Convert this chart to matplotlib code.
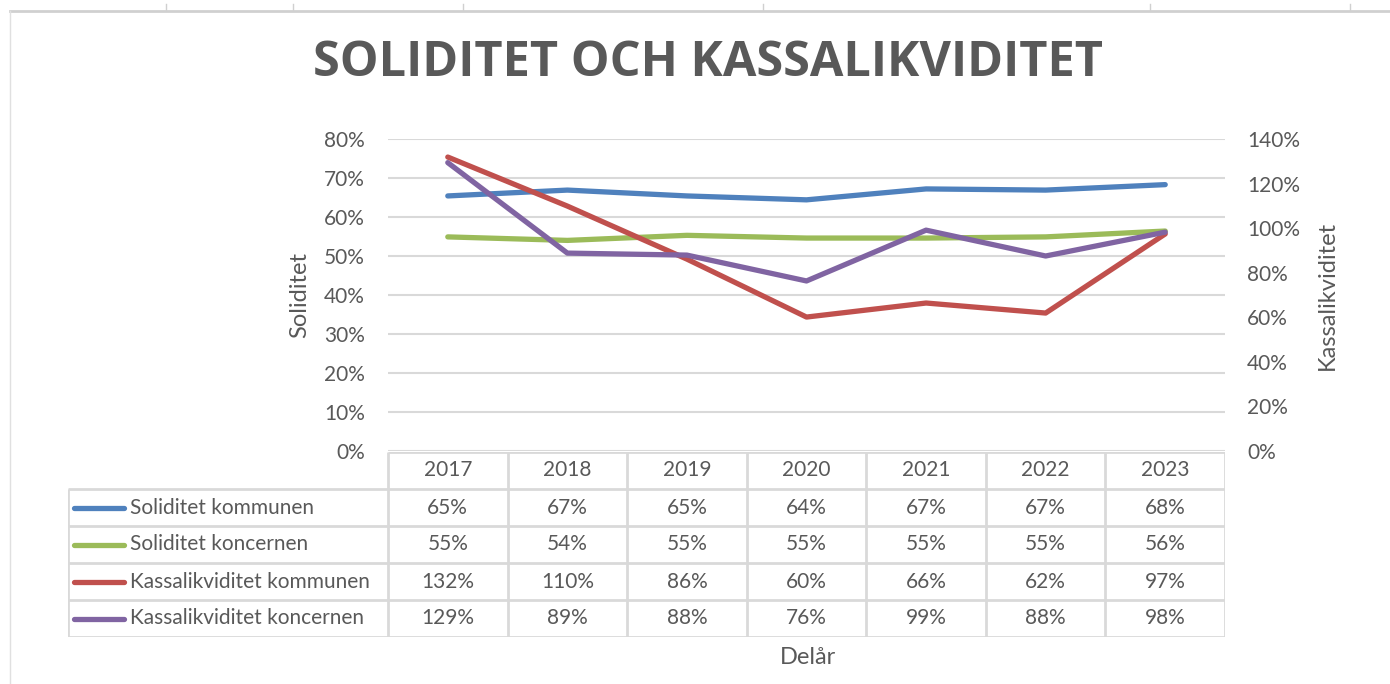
import matplotlib.pyplot as plt
from matplotlib.lines import Line2D
import numpy as np

years = ["2017", "2018", "2019", "2020", "2021", "2022", "2023"]
names = ["Soliditet kommunen", "Soliditet koncernen",
         "Kassalikviditet kommunen", "Kassalikviditet koncernen"]
sol_kommun = [65.4, 66.9, 65.4, 64.4, 67.2, 66.9, 68.3]
sol_koncern = [54.9, 54.0, 55.3, 54.6, 54.6, 54.9, 56.4]
kassa_kommun = [131.9, 109.9, 86.1, 60.1, 66.4, 61.9, 97.4]
kassa_koncern = [129.4, 88.8, 87.9, 76.3, 99.1, 87.5, 98.2]
colors = ["#4F81BD", "#9BBB59", "#C0504D", "#8064A2"]

TXT = "#595959"
GRID = "#d9d9d9"
W, H = 1390, 684
FS = 15
plt.rcParams['font.family'] = ['Lato', 'DejaVu Sans']

fig = plt.figure(figsize=(W / 100, H / 100), dpi=100)

def box(x0, y0, x1, y1):
    # pixel box -> figure fraction
    return [x0 / W, 1 - y1 / H, (x1 - x0) / W, (y1 - y0) / H]

# sheet frame decoration
fig.add_artist(Line2D([10 / W, 1], [1 - 11 / H] * 2, color="#d0d0d0", lw=2))
fig.add_artist(Line2D([10 / W] * 2, [0, 1 - 11 / H], color="#e0e0e0", lw=1))
for px in [166, 293, 463, 763, 1150, 1350]:
    fig.add_artist(Line2D([px / W] * 2, [1 - 10 / H, 1 - 4 / H], color="#d0d0d0", lw=1))

fig.text(708 / W, 1 - 64 / H, "SOLIDITET OCH KASSALIKVIDITET", ha="center", va="center",
         fontsize=35, fontweight="bold", color=TXT, family=["Open Sans", "DejaVu Sans"])

X0, X1, Y0, Y1 = 388, 1225, 139, 451
ax = fig.add_axes(box(X0, Y0, X1, Y1))
ax2 = ax.twinx()
x = np.arange(len(years))

ax.plot(x, sol_kommun, color=colors[0], lw=3.8, solid_capstyle="round")
ax.plot(x, sol_koncern, color=colors[1], lw=3.8, solid_capstyle="round")
ax2.plot(x, kassa_kommun, color=colors[2], lw=3.8, solid_capstyle="round")
ax2.plot(x, kassa_koncern, color=colors[3], lw=3.8, solid_capstyle="round")

ax.set_xlim(-0.5, len(years) - 0.5)
ax.set_ylim(0, 80)
ax2.set_ylim(0, 140)
ax.set_yticks(np.arange(0, 81, 10))
ax.set_yticklabels([f"{v}%" for v in range(0, 81, 10)])
ax2.set_yticks(np.arange(0, 141, 20))
ax2.set_yticklabels([f"{v}%" for v in range(0, 141, 20)])
ax.set_xticks([])
ax.grid(axis="y", color=GRID, lw=1.5)
ax.set_axisbelow(True)
for a in (ax, ax2):
    for s in a.spines.values():
        s.set_visible(False)
    a.tick_params(axis="y", length=0, labelsize=FS, labelcolor=TXT)
ax.tick_params(axis="y", pad=16.5)
ax2.tick_params(axis="y", pad=16)
ax.set_ylabel("Soliditet", fontsize=17, color=TXT, labelpad=10)
ax2.set_ylabel("Kassalikviditet", fontsize=17, color=TXT, labelpad=12)

# data table under the plot
L0, T0, T1 = 68, 452, 637
colw = (X1 - X0) / len(years)
lead = (X0 - L0) / colw
tab = fig.add_axes(box(L0, T0, X1, T1))
tab.set_xlim(-0.5 - lead, len(years) - 0.5)
tab.set_ylim(5, 0)
tab.axis("off")
gkw = dict(color=GRID, lw=2, solid_capstyle="butt")
tab.plot([-0.5, -0.5], [0, 5], **gkw)
for i in range(len(years)):
    tab.plot([i + 0.5, i + 0.5], [0, 5], **gkw)
tab.plot([-0.5, len(years) - 0.5], [0, 0], **gkw)
for r in range(1, 6):
    tab.plot([-0.5 - lead, len(years) - 0.5], [r, r], **gkw)
tab.plot([-0.5 - lead, -0.5 - lead], [1, 5], **gkw)
for i, yr in enumerate(years):
    tab.text(i, 0.5, yr, ha="center", va="center", fontsize=FS, color=TXT)
series = [sol_kommun, sol_koncern, kassa_kommun, kassa_koncern]
for r, (nm, vals, c) in enumerate(zip(names, series, colors)):
    yy = r + 1.5
    tab.plot([-0.5 - lead + 0.05, -0.5 - lead + 0.47], [yy, yy], color=c, lw=3.8,
             solid_capstyle="round")
    tab.text(-0.5 - lead + 0.52, yy, nm, ha="left", va="center", fontsize=FS, color=TXT)
    for i, v in enumerate(vals):
        tab.text(i, yy, f"{round(v):.0f}%", ha="center", va="center", fontsize=FS, color=TXT)

fig.text(808 / W, 1 - 657 / H, "Delår", ha="center", va="center", fontsize=17, color=TXT)

fig.savefig("out.png", dpi=100)
